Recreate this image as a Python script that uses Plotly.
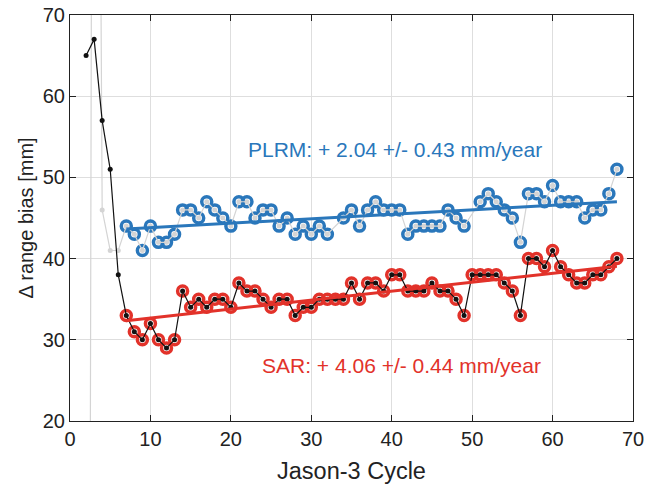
import plotly.graph_objects as go
import numpy as np

# Jason-3 cycles and range bias values [mm]
sar_cycles = list(range(2, 69))
sar_bias = [65, 67, 57, 51, 38, 33, 31, 30, 32, 30, 29, 30, 36, 34, 35, 34, 35, 35, 34,
            37, 36, 36, 35, 34, 35, 35, 33, 34, 34, 35, 35, 35, 35, 37, 35, 37, 37, 36,
            38, 38, 36, 36, 36, 37, 36, 36, 35, 33, 38, 38, 38, 38, 37, 36, 33, 40, 40,
            39, 41, 39, 38, 37, 37, 38, 38, 39, 40]

plrm_cycles = [c for c in range(2, 69) if c not in (33, 50)]
plrm_bias = [-210, 220, 46, 41, 41, 44, 43, 41, 44, 42, 42, 43, 46, 46, 45, 47, 46, 45,
             44, 47, 47, 45, 46, 46, 44, 45, 43, 44, 43, 44, 43, 45, 46, 44, 46, 47, 46,
             46, 46, 43, 44, 44, 44, 44, 46, 45, 44, 47, 48, 47, 46, 45, 42, 48, 48, 47,
             49, 47, 47, 47, 45, 46, 46, 48, 51]

first_fit_cycle = 7
plrm_label = "PLRM: + 2.04 +/- 0.43 mm/year"
sar_label = "SAR: + 4.06 +/- 0.44 mm/year"

BLUE = '#2a77bb'
RED = '#e2322a'
GRAY = '#d4d4d4'
DARK = '#222222'


def fit_line(cycles, values):
    c = np.array(cycles, dtype=float)
    v = np.array(values, dtype=float)
    m = c >= first_fit_cycle
    p = np.polyfit(c[m], v[m], 1)
    xs = np.array([c[m].min(), c[m].max()])
    return xs, np.polyval(p, xs), c[m], v[m]


fig = go.Figure()

# PLRM series
px, py, pc, pv = fit_line(plrm_cycles, plrm_bias)
fig.add_trace(go.Scatter(x=pc, y=pv, mode='markers',
                         marker=dict(symbol='circle-open', size=10, color=BLUE,
                                     line=dict(width=3.5, color=BLUE))))
fig.add_trace(go.Scatter(x=plrm_cycles, y=plrm_bias, mode='lines+markers',
                         line=dict(color=GRAY, width=1.2),
                         marker=dict(color=GRAY, size=5)))
fig.add_trace(go.Scatter(x=px, y=py, mode='lines', line=dict(color=BLUE, width=3)))

# SAR series
sx, sy, sc, sv = fit_line(sar_cycles, sar_bias)
fig.add_trace(go.Scatter(x=sc, y=sv, mode='markers',
                         marker=dict(symbol='circle-open', size=10, color=RED,
                                     line=dict(width=3.5, color=RED))))
fig.add_trace(go.Scatter(x=sar_cycles, y=sar_bias, mode='lines+markers',
                         line=dict(color='#111111', width=1.2),
                         marker=dict(color='#111111', size=5)))
fig.add_trace(go.Scatter(x=sx, y=sy, mode='lines', line=dict(color=RED, width=3)))

fig.add_annotation(x=40.4, y=53.4, text=plrm_label, showarrow=False,
                   font=dict(size=21, color=BLUE))
fig.add_annotation(x=41.2, y=26.8, text=sar_label, showarrow=False,
                   font=dict(size=21, color=RED))

axis_style = dict(showline=True, mirror='ticks', linecolor=DARK, linewidth=1,
                  ticks='inside', ticklen=6, tickcolor=DARK,
                  showgrid=True, gridcolor='#dedede', zeroline=False,
                  automargin=False, ticklabeloverflow='allow',
                  tickfont=dict(size=20, color=DARK))

fig.update_xaxes(range=[0, 70], dtick=10,
                 title=dict(text='Jason-3 Cycle', font=dict(size=23.5, color=DARK), standoff=13),
                 **axis_style)
fig.update_yaxes(range=[20, 70], dtick=10,
                 title=dict(text='Δ range bias [mm]', font=dict(size=20, color=DARK), standoff=3),
                 **axis_style)

fig.update_layout(width=646, height=489, showlegend=False,
                  plot_bgcolor='white', paper_bgcolor='white',
                  font=dict(family='Liberation Sans, Arial, sans-serif', color=DARK),
                  margin=dict(l=70, r=13, t=15, b=68))

# drop the default 8 px page margin so the figure fills the window
fig.write_html("out.html", config={'displayModeBar': False},
               post_script="document.body.style.margin='0';")
